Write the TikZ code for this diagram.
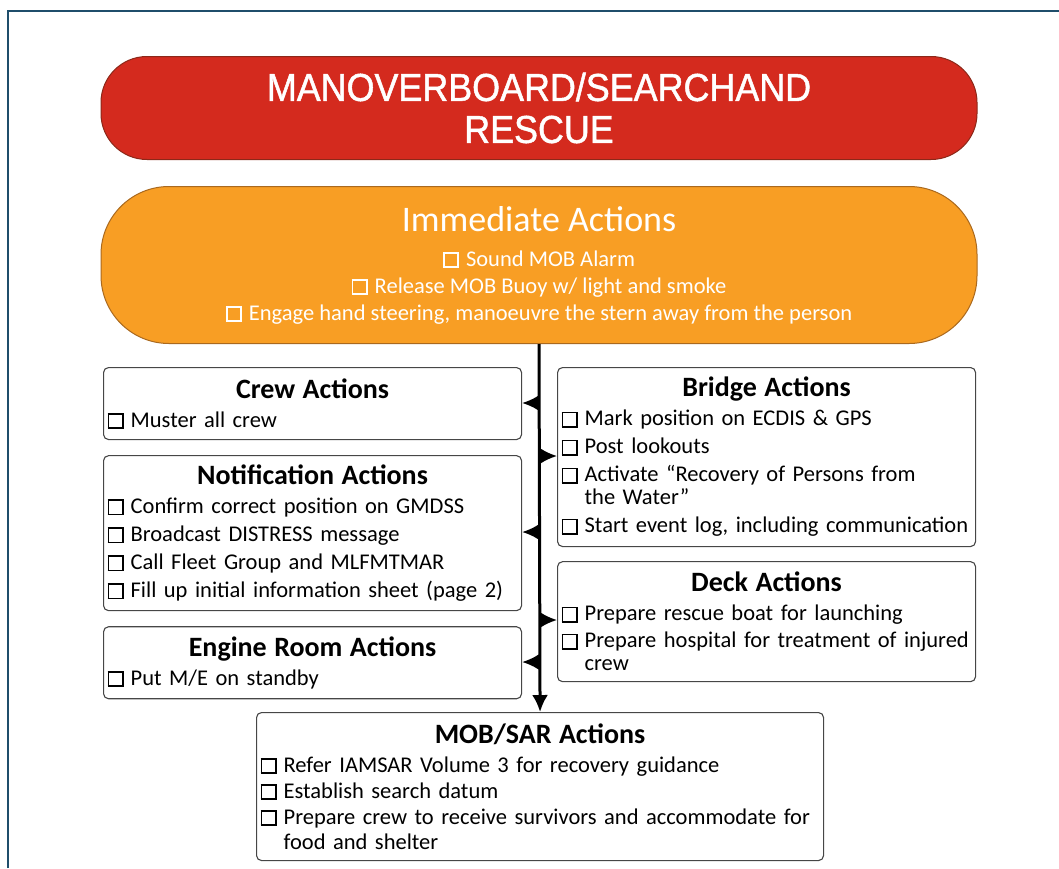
\documentclass[tikz,border=0pt]{standalone}
\usepackage{fontspec}
\setmainfont{Carlito}
\newfontfamily\bannerfont[FakeStretch=0.92,FakeBold=1.2]{Liberation Sans}
\usetikzlibrary{arrows.meta,positioning}

\definecolor{rahmenblau}{RGB}{31,78,107}
\definecolor{mobrot}{RGB}{212,42,30}
\definecolor{mobrotrand}{RGB}{140,40,25}
\definecolor{sofortorange}{RGB}{248,158,36}
\definecolor{orangerand}{RGB}{170,105,30}
\definecolor{kastenrand}{RGB}{70,70,70}

\newcommand\tickbox{{\setlength\fboxsep{0pt}\setlength\fboxrule{1.8pt}\fbox{\rule{0pt}{12.5pt}\hspace{12.5pt}}}}
\newcommand\punkt{\tickbox\hspace{7pt}}
\newcommand\einzug{\hspace*{23.1pt}}
\newcommand\kopf[1]{\makebox[\linewidth]{\fontsize{28}{32}\selectfont\bfseries #1}\\[6pt]}

\begin{document}
\begin{tikzpicture}[x=1pt,y=-1pt,
	banner/.style={fill=mobrot, draw=mobrotrand, line width=1pt, rounded corners=46pt,
		minimum width=876pt, minimum height=103pt, text=white, align=center,
		font=\bannerfont\fontsize{39}{42}\selectfont},
	sofort/.style={fill=sofortorange, draw=orangerand, line width=1pt, rounded corners=68pt,
		minimum width=876pt, minimum height=157pt, text=white, align=center,
		font=\fontsize{22.5}{27}\selectfont},
	kasten/.style={draw=kastenrand, line width=1.1pt, rounded corners=5pt, anchor=north west,
		inner xsep=4pt, inner ysep=3pt, text width=410pt, align=left,
		font=\fontsize{22.5}{23}\selectfont},
	stamm/.style={line width=3pt, -{Latex[length=17pt,width=16pt]}},
	pfeil/.style={line width=2.4pt, -{Latex[length=17pt,width=16pt]}}]

			\useasboundingbox (0,0) rectangle (1059,868);

			% Rahmen
			\draw[rahmenblau, line width=2pt] (8,868) -- (8,11) -- (1059,11);

			% Titel und Sofortmassnahmen
			\node[banner] (titel) at (539,108) {MANOVERBOARD/SEARCHAND\\RESCUE};
			\node[sofort, below=26pt of titel] (sofort) {%
				{\fontsize{36}{40}\selectfont Immediate Actions}\\[8pt]
				\punkt Sound MOB Alarm\\
				\punkt Release MOB Buoy w/ light and smoke\\
				\punkt Engage hand steering, manoeuvre the stern away from the person};

			% Linke Kaesten
			\node[kasten, minimum height=72pt] (crew) at (103,367) {%
				\kopf{Crew Actions}
				\punkt Muster all crew};
			\node[kasten, minimum height=155pt, below=15pt of crew] (notif) {%
				\kopf{Notification Actions}
				\punkt Confirm correct position on GMDSS\\[5pt]
				\punkt Broadcast DISTRESS message\\[5pt]
				\punkt Call Fleet Group and MLFMTMAR\\[5pt]
				\punkt Fill up initial information sheet (page 2)};
			\node[kasten, minimum height=72pt, below=15pt of notif] (engine) {%
				\kopf{Engine Room Actions}
				\punkt Put M/E on standby};

			% Rechte Kaesten
			\node[kasten, minimum height=179pt] (bridge) at (557,367) {%
				\kopf{Bridge Actions}
				\punkt Mark position on ECDIS \& GPS\\[5pt]
				\punkt Post lookouts\\[5pt]
				\punkt Activate “Recovery of Persons from\\
				\einzug the Water”\\[5pt]
				\punkt Start event log, including communication};
			\node[kasten, minimum height=120pt, below=14pt of bridge] (deck) {%
				\kopf{Deck Actions}
				\punkt Prepare rescue boat for launching\\[4pt]
				\punkt Prepare hospital for treatment of injured\\
				\einzug crew};

			% Unterer Kasten
			\node[kasten, minimum height=148pt, text width=559pt] (mob) at (256,712) {%
				\kopf{MOB/SAR Actions}
				\punkt Refer IAMSAR Volume 3 for recovery guidance\\[3pt]
				\punkt Establish search datum\\[3pt]
				\punkt Prepare crew to receive survivors and accommodate for\\[2pt]
				\einzug food and shelter};

			% Abzweigpunkte am Stamm
			\coordinate (a1) at (539,403);
			\coordinate (a2) at (539,456);
			\coordinate (a3) at (539,532);
			\coordinate (a4) at (539,620);
			\coordinate (a5) at (539,662);

			% Stammpfeil
			\draw[stamm] (sofort.south) -- (mob.north);

			% Seitenpfeile
			\draw[pfeil] (a1) -- (a1 -| crew.east);
			\draw[pfeil] (a2) -- (a2 -| bridge.west);
			\draw[pfeil] (a3) -- (a3 -| notif.east);
			\draw[pfeil] (a4) -- (a4 -| deck.west);
			\draw[pfeil] (a5) -- (a5 -| engine.east);

		\end{tikzpicture}
\end{document}
